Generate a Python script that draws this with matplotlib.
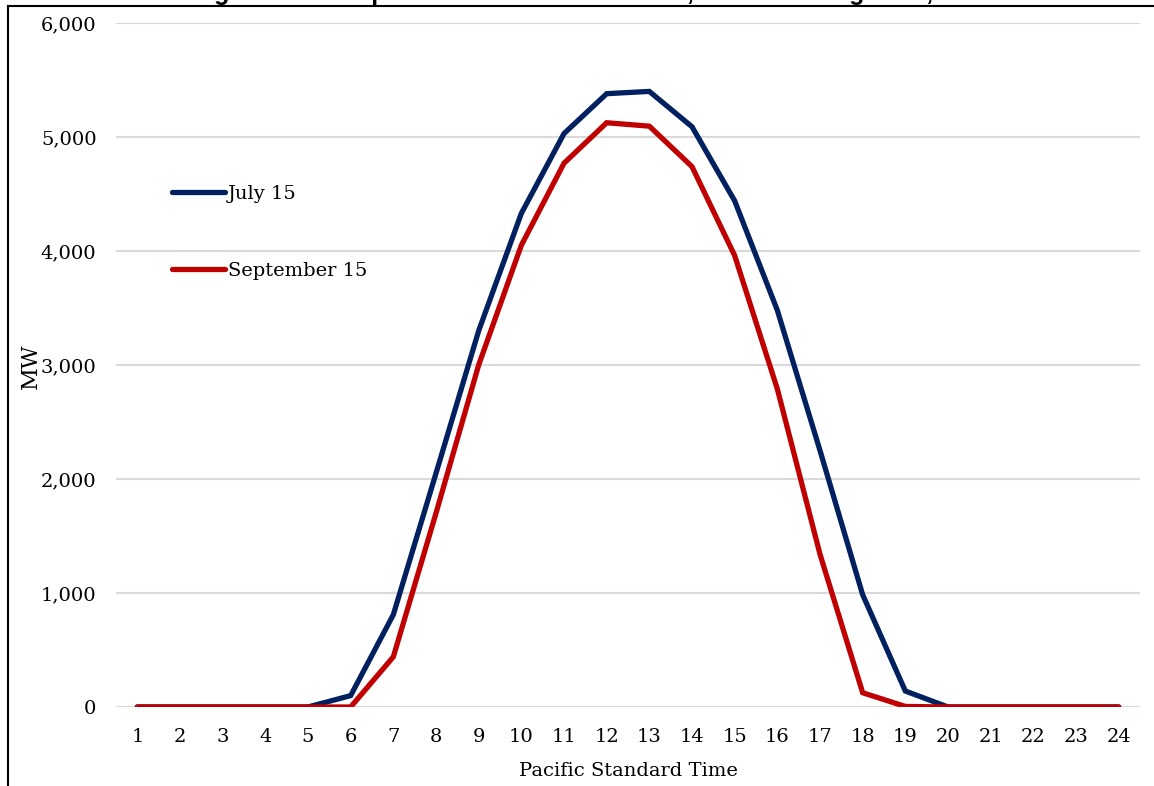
import matplotlib.pyplot as plt
from matplotlib.lines import Line2D

hours = list(range(1, 25))
july15 = [0, 0, 0, 0, 0, 100, 810, 2050, 3300, 4330, 5030, 5380, 5400, 5090,
          4440, 3480, 2250, 985, 140, 0, 0, 0, 0, 0]
sept15 = [0, 0, 0, 0, 0, 0, 440, 1700, 3000, 4050, 4770, 5125, 5095, 4740,
          3960, 2790, 1340, 125, 5, 0, 0, 0, 0, 0]
yticks = [0, 1000, 2000, 3000, 4000, 5000, 6000]

serif = 'DejaVu Serif'
fs = 14

fig = plt.figure(figsize=(11.54, 7.86), dpi=100)
ax = fig.add_axes([116/1154, 1 - 707/786, (1140 - 116)/1154, (707 - 23)/786])

ax.plot(hours, july15, color='#002060', lw=3.8, solid_capstyle='round', solid_joinstyle='miter', zorder=3)
ax.plot(hours, sept15, color='#C00000', lw=3.8, solid_capstyle='round', solid_joinstyle='miter', zorder=4)

ax.set_xlim(0.5, 24.5)
ax.set_ylim(0, 6000)
ax.set_yticks(yticks)
ax.set_yticklabels([f'{v:,}' for v in yticks], fontfamily=serif, fontsize=fs)
ax.set_xticks(hours)
ax.set_xticklabels([str(h) for h in hours], fontfamily=serif, fontsize=fs)
ax.tick_params(length=0, pad=15)
ax.tick_params(axis='y', pad=14)
ax.grid(axis='y', color='#d9d9d9', lw=1.5)
ax.set_axisbelow(True)
for s in ax.spines.values():
    s.set_visible(False)
ax.set_xlabel('Pacific Standard Time', fontfamily=serif, fontsize=fs, labelpad=12)
fig.text(31/1154, 1 - 366/786, 'MW', rotation=90, fontfamily=serif, fontsize=16,
         ha='center', va='center')

# legend drawn by hand like the source
handles = [Line2D([], [], color='#002060', lw=3.8, solid_capstyle='round'),
           Line2D([], [], color='#C00000', lw=3.8, solid_capstyle='round')]
leg = ax.legend(handles, ['July 15', 'September 15'], loc='upper left',
                bbox_to_anchor=(0.038, 0.789), frameon=False, handlelength=2.7,
                handletextpad=0.15, labelspacing=3.05,
                prop={'family': serif, 'size': fs})

# frame lines and clipped title
fig.add_artist(Line2D([8/1154, 8/1154], [0, 1 - 6/786], color='black', lw=1.5))
fig.add_artist(Line2D([8/1154, 1], [1 - 6/786, 1 - 6/786], color='black', lw=1.5))
fig.text(0.515, 1.0, 'Figure 3: Example of Solar PV Generation, SCE Planning Area, 2030',
         ha='center', va='baseline', fontfamily='Liberation Sans', fontweight='bold', fontsize=18)

fig.savefig('out.png', dpi=100)
